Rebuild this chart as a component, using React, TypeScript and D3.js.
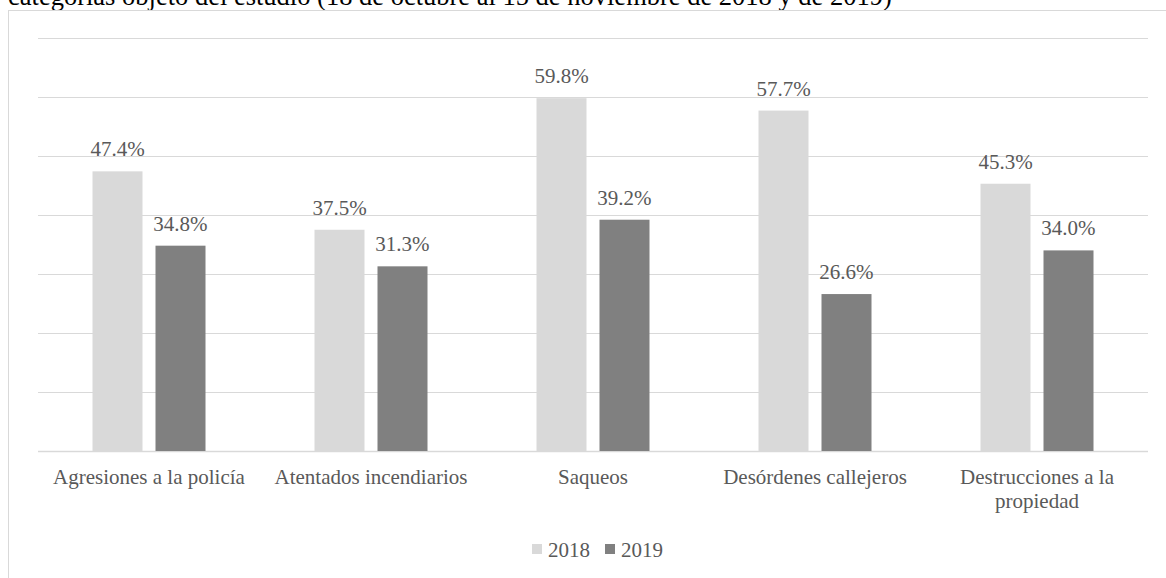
import React from "react";
import * as d3 from "d3";

const categories: string[][] = [
  ["Agresiones a la policía"],
  ["Atentados incendiarios"],
  ["Saqueos"],
  ["Desórdenes callejeros"],
  ["Destrucciones a la", "propiedad"],
];
const series = ["2018", "2019"];
const values2018 = [47.4, 37.5, 59.8, 57.7, 45.3];
const values2019 = [34.8, 31.3, 39.2, 26.6, 34.0];
const yTicks = [0, 10, 20, 30, 40, 50, 60, 70];
const colors = ["#d9d9d9", "#808080"];
const title =
  "categorías objeto del estudio (18 de octubre al 15 de noviembre de 2018 y de 2019)";

const W = 1166;
const H = 578;
const FONT = "'Liberation Serif', 'Times New Roman', Times, serif";

export default function App() {
  const keys = categories.map((c) => c.join(" "));
  const x0 = d3.scaleBand<string>().domain(keys).range([38, 1148]).padding(0);
  const x1 = d3
    .scaleBand<string>()
    .domain(series)
    .range([54.5, x0.bandwidth() - 54.5])
    .paddingInner(0.2063)
    .paddingOuter(0);
  const y = d3.scaleLinear().domain([0, 70]).range([451, 38]);
  const data = [values2018, values2019];
  const txt = { fontFamily: FONT };

  return (
    <svg
      width={W}
      height={H}
      style={{ position: "absolute", left: 0, top: 0, display: "block" }}
    >
      <rect x={0} y={0} width={W} height={H} fill="#ffffff" />
      <text x={8} y={5} fontSize={26.5} fill="#000000" style={txt}>
        {title}
      </text>
      <rect
        x={8.5}
        y={10.5}
        width={W + 20}
        height={H + 20}
        fill="none"
        stroke="#d9d9d9"
        strokeWidth={1}
      />
      {yTicks.map((t) => (
        <line
          key={t}
          x1={38}
          x2={1148}
          y1={Math.round(y(t)) + 0.5}
          y2={Math.round(y(t)) + 0.5}
          stroke="#d9d9d9"
          strokeWidth={t === 0 ? 1.5 : 1.2}
        />
      ))}
      {keys.map((k, i) => (
        <g key={k} transform={`translate(${x0(k)},0)`}>
          {series.map((s, j) => {
            const v = data[j][i];
            const bx = x1(s) as number;
            return (
              <g key={s}>
                <rect
                  x={bx}
                  y={y(v)}
                  width={x1.bandwidth()}
                  height={y(0) - y(v)}
                  fill={colors[j]}
                />
                <text
                  x={bx + x1.bandwidth() / 2}
                  y={y(v) - 15}
                  textAnchor="middle"
                  fontSize={21}
                  fill="#595959"
                  style={txt}
                >
                  {v.toFixed(1)}%
                </text>
              </g>
            );
          })}
          {categories[i].map((line, li) => (
            <text
              key={li}
              x={x0.bandwidth() / 2}
              y={484 + li * 24}
              textAnchor="middle"
              fontSize={21}
              fill="#595959"
              style={txt}
            >
              {line}
            </text>
          ))}
        </g>
      ))}
      {series.map((s, j) => (
        <g key={s} transform={`translate(${532 + j * 73},0)`}>
          <rect x={0} y={544} width={10} height={10} fill={colors[j]} />
          <text x={16} y={557} fontSize={21} fill="#595959" style={txt}>
            {s}
          </text>
        </g>
      ))}
    </svg>
  );
}
